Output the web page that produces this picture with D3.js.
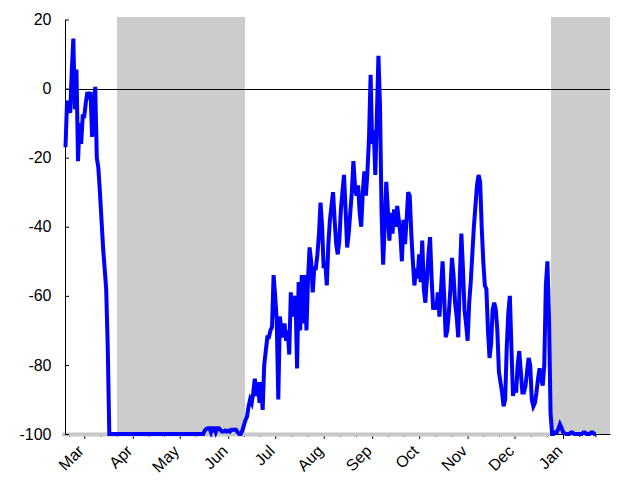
<!DOCTYPE html>
<html>
<head>
<meta charset="utf-8">
<script src="https://cdn.jsdelivr.net/npm/d3@7"></script>
<style>
  html, body { margin: 0; padding: 0; background: #fff; }
  svg { display: block; }
  text { font-family: "Liberation Sans", Arial, sans-serif; fill: #000; }
</style>
</head>
<body>
<svg id="chart" width="640" height="480"></svg>
<script>
// ---------------- data ----------------
const startDate = "2020-02-18";   // first daily value
const axisEndDate = "2021-01-31";
// daily values (percent change), one per day from startDate
const values = [
  -17, -3.5, -6, -7, 5, 14.5, -6, 5.5, -21, -10,
  -16, -8, -8, -4, -1, -3, -1, -14, -6, 0.5,
  -20, -23, -30, -38, -46, -52, -58, -75, -100, -100,
  -100, -100, -100, -100, -100, -100, -100, -100, -100, -100,
  -100, -100, -100, -100, -100, -100, -100, -100, -100, -100,
  -100, -100, -100, -100, -100, -100, -100, -100, -100, -100,
  -100, -100, -100, -100, -100, -100, -100, -100, -100, -100,
  -100, -100, -100, -100, -100, -100, -100, -100, -100, -100,
  -100, -100, -100, -100, -100, -100, -100, -100, -100, -99,
  -98.5, -98.3, -98.3, -99.5, -98.3, -98.3, -99.5, -98.3, -98.3, -98.8,
  -99.3, -99.3, -99, -99.3, -99, -99.3, -98.8, -98.8, -98.8, -98.8,
  -99.5, -100, -100, -99, -97.5, -96, -95, -92, -90, -91,
  -88, -84, -89, -85, -91, -85, -93, -80, -76, -72,
  -72, -70, -69, -54, -60, -67, -90, -66, -70, -72,
  -68, -73, -70, -77, -59, -66, -62, -60, -81, -56,
  -70, -54, -68, -54, -70, -55, -46, -50, -59, -52,
  -52, -48, -42, -33, -40, -52, -50, -57, -45, -38,
  -34, -30, -38, -45, -48, -44, -35, -30, -25, -35,
  -46, -42, -36, -30, -21, -28, -31, -28, -36, -40,
  -30, -24, -31, -24, -14, 4, -16, -12, -25, -8,
  9.5, -5, -36, -51, -40, -27, -35, -44, -36, -42,
  -35, -40, -34, -38, -42, -50, -38, -45, -38, -30,
  -31, -42, -50, -57, -52, -55, -48, -56, -44, -58,
  -62, -55, -48, -43, -55, -64, -62, -64, -59, -66,
  -58, -50, -60, -72, -70, -65, -58, -49, -54, -62,
  -66, -72, -55, -42, -52, -64, -68, -73, -62, -56,
  -48, -40, -34, -28, -25, -27, -40, -50, -57, -58,
  -70, -78, -74, -64, -62, -64, -70, -82, -85, -88,
  -92, -90, -75, -65, -60, -75, -89, -86, -88, -80,
  -76, -82, -88, -88, -86, -82, -78, -80, -90, -92,
  -91, -88, -84, -81, -84, -86, -80, -57, -50, -66,
  -94, -100, -100, -99.5, -99.5, -98.5, -97.2, -98.2, -99.5, -99.8,
  -100, -100, -100, -99.6, -99.6, -100, -100, -100, -100, -100,
  -100, -99.6, -99.6, -100, -100, -100, -99.6, -99.6, -100, -100
];
// shaded periods
const shadeStarts = ["2020-03-22", "2020-12-24"];
const shadeEnds   = ["2020-06-12", "2021-01-31"];
const yTicks = [-100, -80, -60, -40, -20, 0, 20];
const monthLabels = ["Mar", "Apr", "May", "Jun", "Jul", "Aug", "Sep", "Oct", "Nov", "Dec", "Jan"];

// ---------------- layout ----------------
const svg = d3.select("#chart");
const parse = d3.utcParse("%Y-%m-%d");
const t0 = parse(startDate), t1 = parse(axisEndDate);
const plotLeft = 65.5, plotRight = 610, plotTop = 19.5, plotBottom = 434;

const x = d3.scaleUtc().domain([t0, t1]).range([plotLeft, plotRight]);
const y = d3.scaleLinear().domain([-100, 20]).range([plotBottom, plotTop]);

const series = values.map((v, i) => ({ date: d3.utcDay.offset(t0, i), value: v }));

// shaded areas
const shades = shadeStarts.map((s, i) => ({ s: parse(s), e: parse(shadeEnds[i]) }));
svg.append("g").selectAll("rect").data(shades).join("rect")
  .attr("x", d => x(d.s))
  .attr("width", d => x(d.e) - x(d.s))
  .attr("y", y(20.7))
  .attr("height", d => y(-100) - y(20.7))
  .attr("fill", "#cccccc")
  .attr("shape-rendering", "crispEdges");

// zero line
svg.append("line")
  .attr("x1", plotLeft).attr("x2", plotRight)
  .attr("y1", Math.round(y(0)) + 0.5).attr("y2", Math.round(y(0)) + 0.5)
  .attr("stroke", "#000").attr("stroke-width", 1);

// month ticks (major) and thirds (minor)
const monthStarts = d3.utcMonth.range(d3.utcMonth.ceil(t0), t1);
const minorTicks = [];
d3.utcMonth.range(d3.utcMonth.floor(t0), t1).forEach(m => {
  const next = d3.utcMonth.offset(m, 1);
  const len = next - m;
  [1 / 3, 2 / 3].forEach(f => {
    const d = new Date(+m + len * f);
    if (d >= t0 && d <= t1) minorTicks.push(d);
  });
});

const xMinor = svg.append("g").attr("transform", `translate(0,${plotBottom})`)
  .call(d3.axisBottom(x).tickValues(minorTicks).tickSize(3).tickSizeOuter(0).tickFormat(""));
xMinor.select(".domain").remove();

const xAxis = svg.append("g").attr("transform", `translate(0,${plotBottom})`)
  .call(d3.axisBottom(x).tickValues(monthStarts).tickSize(5).tickSizeOuter(0)
    .tickFormat((d, i) => monthLabels[i]));
xAxis.selectAll("text")
  .attr("x", 0).attr("y", 0).attr("dy", 0)
  .attr("text-anchor", "end")
  .attr("transform", "translate(0,18) rotate(-45)")
  .style("font-size", "16px");
xAxis.selectAll("line, path").attr("stroke", "#000");

// thin grey strip along the bottom (outside shaded areas)
svg.append("rect")
  .attr("x", 62).attr("y", 432.5)
  .attr("width", x(shades[1].s) - 62).attr("height", 4)
  .attr("fill", "#c8c8c8");

// y axis
const yAxis = svg.append("g").attr("transform", `translate(${plotLeft - 0.5},0)`)
  .call(d3.axisLeft(y).tickValues(yTicks).tickSize(-4).tickSizeOuter(0).tickPadding(13.5)
    .tickFormat(d => String(d)));
yAxis.selectAll("text").style("font-size", "16px");
yAxis.selectAll("line, path").attr("stroke", "#000");

// data line
svg.append("path")
  .datum(series)
  .attr("fill", "none")
  .attr("stroke", "#0000ff")
  .attr("stroke-width", 4)
  .attr("d", d3.line().x(d => x(d.date)).y(d => y(d.value)));
</script>
</body>
</html>
